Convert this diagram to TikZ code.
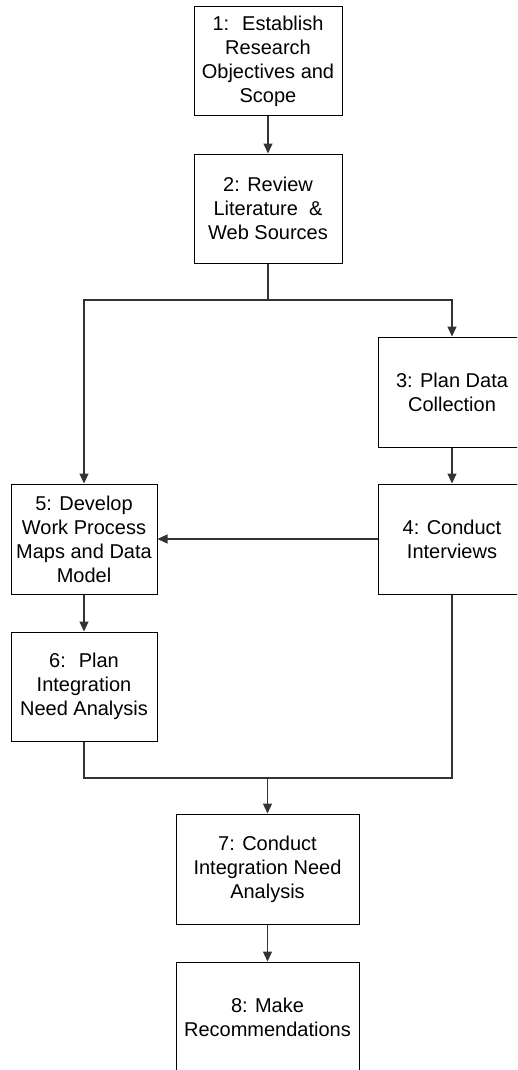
\documentclass[tikz,border=0pt]{standalone}
\usepackage{fontspec}
\setmainfont{Liberation Sans}
\usetikzlibrary{arrows.meta}
\begin{document}
\begin{tikzpicture}[x=1pt,y=-1pt,
  stepbox/.style={draw=black,line width=1pt,minimum width=148pt,minimum height=110pt,
    inner sep=0pt,align=center,font=\fontsize{20}{24}\selectfont},
  link/.style={draw=black!80,line width=1.1pt},
  arr/.style={link,-{Triangle[width=9pt,length=10pt]}}]
\useasboundingbox (0,0) rectangle (517,1070);
\fill[white] (0,0) rectangle (517,1070);
\begin{scope}
\clip (0,0) rectangle (517,1070);
% process steps
\node[stepbox,minimum height=109pt] (b1) at (268,61.5) {1:~ Establish\\Research\\Objectives and\\Scope};
\node[stepbox,minimum height=109pt] (b2) at (268,208.5) {2: Review\\Literature~ \&\\Web Sources};
\node[stepbox] (b3) at (452,392) {3: Plan Data\\Collection};
\node[stepbox] (b4) at (452,539) {4: Conduct\\Interviews};
\node[stepbox,minimum width=146pt] (b5) at (84,539) {5: Develop\\Work Process\\Maps and Data\\Model};
\node[stepbox,minimum width=146pt,minimum height=109pt] (b6) at (84,686.5) {6:~ Plan\\Integration\\Need Analysis};
\node[stepbox,minimum width=183pt] (b7) at (267.5,869) {7: Conduct\\Integration Need\\Analysis};
\node[stepbox,minimum width=183pt] (b8) at (267.5,1017) {8: Make\\Recommendations};
% branch and merge points
\coordinate (split) at (268,300);
\coordinate (merge) at (267.5,778);
% connectors
\draw[arr] (b1) -- (b2);
\draw[link] (b2.south) -- (split);
\draw[arr] (split) -| (b5);
\draw[arr] (split) -| (b3);
\draw[arr] (b3) -- (b4);
\draw[arr] (b4) -- (b5);
\draw[arr] (b5) -- (b6);
\draw[link] (b6.south) -- (b6.south |- merge) -- (b4.south |- merge) -- (b4.south);
\draw[arr] (merge) -- (b7);
\draw[arr] (b7) -- (b8);
\end{scope}
\end{tikzpicture}
\end{document}
